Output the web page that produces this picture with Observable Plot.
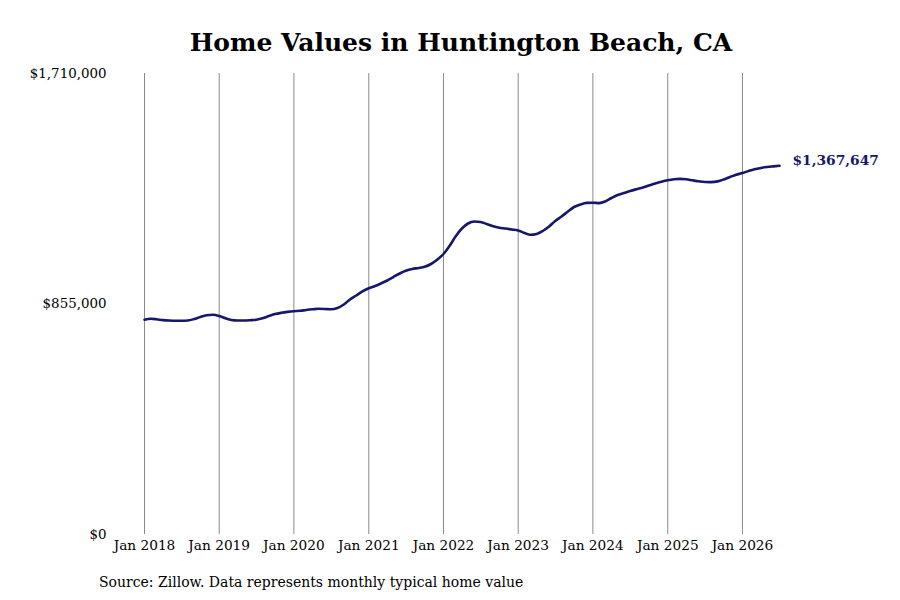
<!DOCTYPE html>
<html>
<head>
<meta charset="utf-8">
<script src="https://cdn.jsdelivr.net/npm/d3@7"></script>
<script src="https://cdn.jsdelivr.net/npm/@observablehq/plot@0.6"></script>
<style>
  html, body { margin: 0; padding: 0; background: #fff; }
  #wrap { position: relative; width: 900px; height: 600px; font-family: "DejaVu Serif", serif; }
  #title { position: absolute; left: 0; width: 922px; top: 26px; text-align: center; font-size: 25px; font-weight: bold; color: #000; line-height: 34px; }
  #chart { position: absolute; left: 0; top: 60px; }
  #caption { position: absolute; left: 99px; top: 572px; font-size: 14px; color: #000; line-height: 20px; }
</style>
</head>
<body>
<div id="wrap">
  <div id="title">Home Values in Huntington Beach, CA</div>
  <div id="chart"></div>
  <div id="caption">Source: Zillow. Data represents monthly typical home value</div>
</div>
<script>
const startYear = 2018;
const values = [
  796400, 800100, 798200, 795300, 793800, 793000, 793000, 793800, 799300, 806800, 813100, 814900,
  810500, 801900, 795700, 793800, 793800, 794900, 796800, 801900, 810100, 817500, 822300, 825700,
  828300, 829800, 832700, 835300, 837200, 836500, 835300, 840100, 853100, 871700, 886500, 901400,
  913200, 921800, 931000, 942200, 955100, 968100, 978100, 984800, 988500, 993000, 1003400, 1018900,
  1040500, 1072000, 1105400, 1135000, 1153600, 1161000, 1159200, 1151700, 1143200, 1138000, 1135000, 1131300,
  1127600, 1118400, 1111700, 1114700, 1125800, 1142500, 1162900, 1179600, 1198100, 1214800, 1224100, 1230000,
  1230700, 1229300, 1235200, 1248200, 1259300, 1266700, 1274100, 1280800, 1287100, 1294500, 1302000, 1308300,
  1313800, 1317500, 1319000, 1317500, 1313800, 1310100, 1307500, 1307200, 1309800, 1316800, 1326100, 1334600,
  1340500, 1348800, 1355200, 1359800, 1362900, 1365400, 1367647
];
const yTicks = [0, 855000, 1710000];
const xTickYears = [2018, 2019, 2020, 2021, 2022, 2023, 2024, 2025, 2026];

const data = values.map((v, i) => ({date: new Date(Date.UTC(startYear, i, 1)), value: v}));
const last = data[data.length - 1];
const xTicks = xTickYears.map(y => new Date(Date.UTC(y, 0, 1)));
const fmtMoney = d3.format("$,");
const fmtDate = d3.utcFormat("Jan %Y");

const chart = Plot.plot({
  width: 900,
  height: 504,
  marginTop: 13,
  marginBottom: 30,
  marginLeft: 144,
  marginRight: 121,
  style: {fontFamily: "DejaVu Serif", fontSize: "13px", color: "#000", background: "#fff"},
  x: {type: "utc", domain: [data[0].date, last.date]},
  y: {domain: [0, 1710000]},
  marks: [
    Plot.ruleX(xTicks, {stroke: "#8a8a8a", strokeWidth: 1}),
    Plot.axisY(yTicks, {tickSize: 0, tickPadding: 38, tickFormat: fmtMoney, fontSize: 13.4, fill: "#000", label: null}),
    Plot.axisX(xTicks, {tickSize: 0, tickPadding: 6, tickFormat: fmtDate, fontSize: 13.7, fill: "#000", label: null}),
    Plot.line(data, {x: "date", y: "value", stroke: "#16166b", strokeWidth: 2.6, curve: "monotone-x"}),
    Plot.text([last], {x: "date", y: "value", text: d => fmtMoney(d.value), textAnchor: "start", dx: 13, dy: -5, fontWeight: "bold", fontSize: 13.8, fill: "#16166b"})
  ]
});
document.getElementById("chart").appendChild(chart);
</script>
</body>
</html>
